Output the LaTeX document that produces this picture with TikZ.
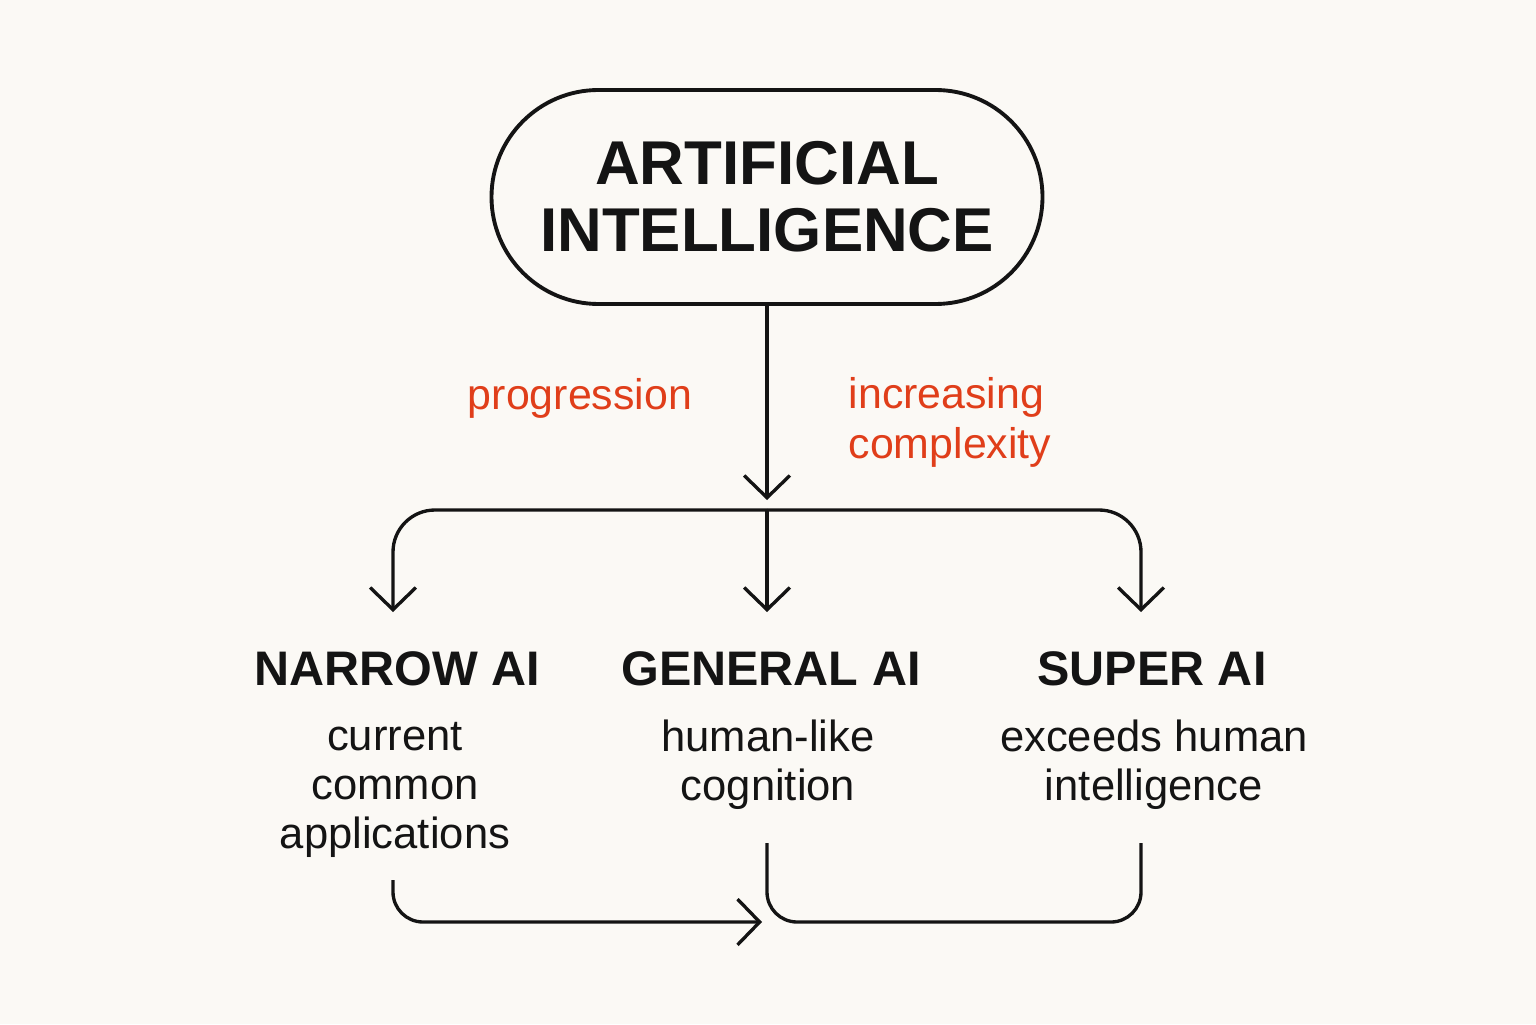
\documentclass[tikz,border=0pt]{standalone}
\usepackage{fontspec}
\setmainfont{Liberation Sans}
\usepackage{xcolor}
\usepackage{tikz}
\usetikzlibrary{
  arrows.meta,
  positioning,
  calc
}
\definecolor{pagebg}{RGB}{251, 249, 245}
\definecolor{inkblack}{RGB}{20, 20, 20}
\definecolor{notered}{RGB}{224, 62, 26}
\tikzset{
  pill/.style = {
    rectangle, rounded corners=1.07cm,
    draw=inkblack, line width=1.1pt,
    minimum width=5.51cm, minimum height=2.14cm, inner sep=0pt,
    align=center, text=inkblack,
    font=\fontsize{17.6}{19}\selectfont\bfseries
  },
  head/.style = {
    inner sep=0pt, text=inkblack,
    font=\fontsize{13.8}{16}\selectfont\bfseries
  },
  desc/.style = {
    inner sep=0pt, align=center, text=inkblack,
    font=\fontsize{12.4}{14}\selectfont
  },
  note/.style = {
    inner sep=0pt, align=left, text=notered,
    font=\fontsize{12.2}{14.2}\selectfont
  },
  arr/.style  = {-{Straight Barb[length=6.3pt, width=13pt]},
                 draw=inkblack, line width=0.95pt},
  bar/.style  = {draw=inkblack, line width=0.95pt},
}
\begin{document}
\begin{tikzpicture}[node distance=0.33cm]

  \fill[pagebg] (0,0) rectangle (15.36,10.24);

  \node[pill] (ai) at (7.67,8.27) {ARTIFICIAL\\INTELLIGENCE};

  %% side notes
  \node[note, anchor=base] (prog) at (5.80,6.15) {progression};
  \node[note, anchor=north west] (incr) at (8.48,6.47)
    {increasing\\complexity};

  %% levels
  \node[head, anchor=base] (narrow)  at (3.97,3.39) {NARROW AI};
  \node[head, anchor=base] (general) at (7.71,3.39) {GENERAL AI};
  \node[head, anchor=base] (super)   at (11.52,3.39) {SUPER AI};

  \node[desc, below=of narrow, yshift=-0.02cm, xshift=-0.02cm] (narrowtxt)
    {current\\common\\applications};
  \node[desc, below=of general, xshift=-0.03cm] (generaltxt)
    {human-like\\cognition};
  \node[desc, below=of super, xshift=0.02cm] (supertxt)
    {exceeds human\\intelligence};

  %% branch points
  \coordinate (drop)      at (7.67,5.24);
  \coordinate (fork)      at (7.67,5.14);
  \coordinate (narrowin)  at (3.93,4.12);
  \coordinate (generalin) at (7.67,4.12);
  \coordinate (superin)   at (11.41,4.12);

  \draw[arr] (ai.south) -- (drop);
  \draw[arr, rounded corners=0.42cm] (fork) -| (narrowin);
  \draw[arr, rounded corners=0.42cm] (fork) -| (superin);
  \draw[arr] (fork) -- (generalin);

  %% loop back at the bottom
  \coordinate (loopa) at (3.93,1.44);
  \coordinate (loopb) at (7.62,1.02);
  \coordinate (brkl)  at (7.67,1.81);
  \coordinate (brkr)  at (11.41,1.81);

  \draw[arr, rounded corners=0.3cm] (loopa) |- (loopb);
  \draw[bar, rounded corners=0.3cm] (brkl) |- (brkr |- loopb) -- (brkr);

\end{tikzpicture}
\end{document}
